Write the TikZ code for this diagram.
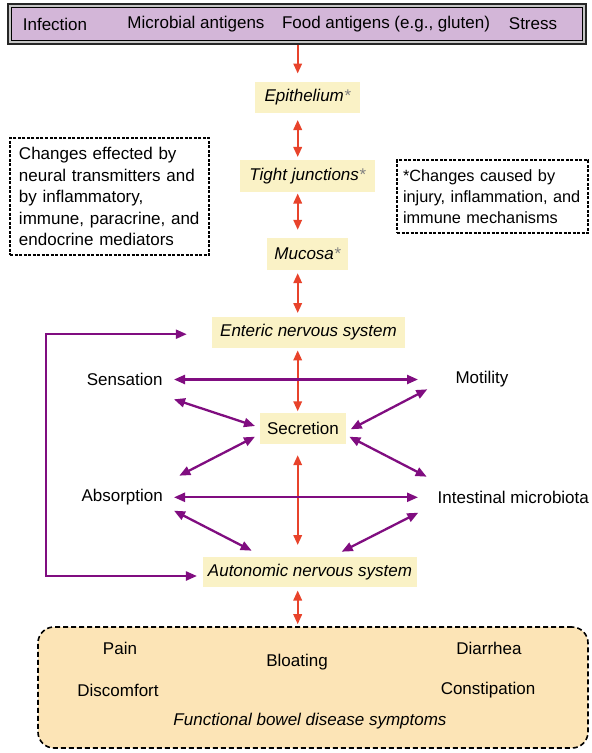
\documentclass[tikz,border=0pt]{standalone}
\usepackage{fontspec}
\setmainfont{Liberation Sans}
\usetikzlibrary{arrows.meta,calc}
\definecolor{ybox}{HTML}{FAF2C6}
\definecolor{obox}{HTML}{FCE4B6}
\definecolor{pbox}{HTML}{D3B6D8}
\definecolor{rarr}{HTML}{E8432B}
\definecolor{parr}{HTML}{800D80}
\begin{document}
\begin{tikzpicture}[x=1pt,y=-1pt,
  every node/.style={font=\fontsize{17}{20.4}\selectfont, inner sep=0pt},
  ybx/.style={fill=ybox, font=\fontsize{17}{20.4}\selectfont\itshape},
  rar/.style={draw=rarr, line width=1.9pt, {Triangle[length=10pt,width=8.5pt]}-{Triangle[length=10pt,width=8.5pt]}},
  rarone/.style={draw=rarr, line width=1.9pt, -{Triangle[length=10pt,width=8.5pt]}},
  par/.style={draw=parr, line width=2.3pt, {Triangle[length=11pt,width=9pt]}-{Triangle[length=11pt,width=9pt]}},
  dbox/.style={draw=black, line width=1.6pt, dash pattern=on 3pt off 1.5pt}
]
\useasboundingbox (0,0) rectangle (592,753);
\fill[white] (0,0) rectangle (592,753);

% top box
\node[draw=black!85, line width=1.2pt, fill=gray!45, minimum width=578, minimum height=40] (topbox) at (297,24) {};
\node[draw=black, line width=1.3pt, fill=pbox, minimum width=571, minimum height=33] (topin) at (297,24) {};
\node (inf) at (55,24) {Infection};
\node (mic) at (196,24) {Microbial antigens};
\node (food) at (386,24) {Food antigens (e.g., gluten)};
\node (stress) at (533,24) {Stress};

% yellow boxes
\node[ybx, minimum width=105, minimum height=31.6] (epi) at (307.5,97.5) {Epithelium\textcolor{gray}{*}};
\node[ybx, minimum width=135, minimum height=31.7] (tight) at (307.5,176) {Tight junctions\textcolor{gray}{*}};
\node[ybx, minimum width=81.6, minimum height=32] (muc) at (307.5,254) {Mucosa\textcolor{gray}{*}};
\node[ybx, minimum width=193, minimum height=31] (ent) at (308.5,332.2) {Enteric nervous system};
\node[fill=ybox, minimum width=86, minimum height=31] (sec) at (303,428.5) {Secretion};
\node[ybx, minimum width=213.7, minimum height=30.6] (aut) at (310,572) {Autonomic nervous system};

% dashed note boxes
\node[dbox, minimum width=199, minimum height=117, text width=181, inner xsep=9pt, align=left,
      font=\fontsize{17}{21.5}\selectfont] (lnote) at (109.5,196.5)
  {Changes effected by\\neural transmitters and\\by inflammatory,\\immune, paracrine, and\\endocrine mediators};
\node[dbox, minimum width=191, minimum height=73, text width=179, inner xsep=6pt, align=left,
      font=\fontsize{16.3}{21}\selectfont] (rnote) at (492.5,196.5)
  {*Changes caused by\\injury, inflammation, and\\immune mechanisms};

% side labels
\node (sens) at (124.7,379.5) {Sensation};
\node (mot) at (482,379.5) {Motility};
\node (abs) at (122.2,497.3) {Absorption};
\node (int) at (513.3,497.3) {Intestinal microbiota};

% symptoms box
\node[draw=black, line width=1.6pt, dash pattern=on 5pt off 3pt, rounded corners=16pt,
      fill=obox, minimum width=550, minimum height=121] (sym) at (313,687.5) {};
\node (pain) at (120,648) {Pain};
\node (bloat) at (297,662) {Bloating};
\node (diar) at (489,648) {Diarrhea};
\node (disc) at (118,690) {Discomfort};
\node (const) at (488,690) {Constipation};
\node[font=\fontsize{17}{20.4}\selectfont\itshape] (fbd) at (310,721) {Functional bowel disease symptoms};

% red arrows
\coordinate (rx) at (297.7,0);
\draw[rarone, shorten >=8pt] (topbox.south -| rx) -- (epi.north -| rx);
\draw[rar, shorten <=6.5pt, shorten >=3pt] (epi.south -| rx) -- (tight.north -| rx);
\draw[rar, shorten <=1.5pt, shorten >=8pt] (tight.south -| rx) -- (muc.north -| rx);
\draw[rar, shorten <=3pt, shorten >=3.5pt] (muc.south -| rx) -- (ent.north -| rx);
\draw[rar, shorten <=2.5pt, shorten >=1.5pt] (ent.south -| rx) -- (sec.north -| rx);
\draw[rar, shorten <=11pt, shorten >=11.5pt] (sec.south -| rx) -- (aut.north -| rx);
\draw[rar, shorten <=3pt, shorten >=2pt] (aut.south -| rx) -- (sym.north -| rx);

% purple arrows
\draw[par] ([shift={(49.3,0)}]sens.center) -- ([shift={(-64,0)}]mot.center);
\draw[par] ([shift={(51.8,0)}]abs.center) -- ([shift={(-95.3,0)}]int.center);
\draw[par] ([shift={(49.3,19.8)}]sens.center) -- ([shift={(-48,-2.5)}]sec.center);
\draw[par] ([shift={(57.1,-21.6)}]abs.center) -- ([shift={(-48,8.2)}]sec.center);
\draw[par] ([shift={(51.8,13.4)}]abs.center) -- ([shift={(-58.3,-21.3)}]aut.center);
\draw[par] ([shift={(-54.7,9.8)}]mot.center) -- ([shift={(47.7,0.8)}]sec.center);
\draw[par] ([shift={(46.3,8.2)}]sec.center) -- ([shift={(-86.6,-20.6)}]int.center);
\draw[par] ([shift={(-95,15.4)}]int.center) -- ([shift={(31.7,-20.3)}]aut.center);

% feedback loop
\coordinate (lx) at (46,0);
\coordinate (l1) at ([shift={(-25,2)}]ent.west);
\coordinate (l2) at ([shift={(-6,4)}]aut.west);
\draw[par] (l1) -- (l1 -| lx) -- (l2 -| lx) -- (l2);
\end{tikzpicture}
\end{document}
